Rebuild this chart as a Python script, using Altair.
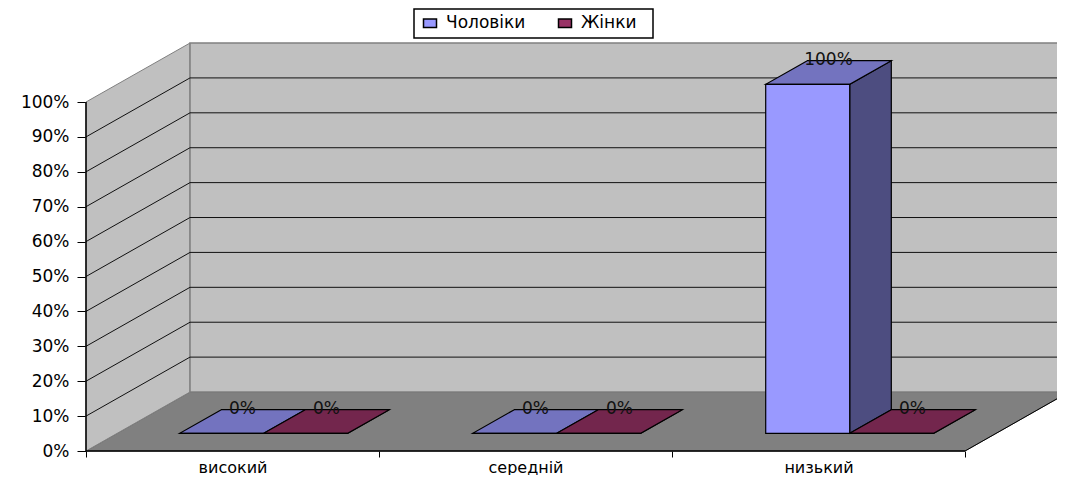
import altair as alt
import pandas as pd

categories = ["високий", "середній", "низький"]
series_names = ["Чоловіки", "Жінки"]
men = [0, 0, 100]
women = [0, 0, 0]
front_colors = ["#9999FF", "#993366"]
top_colors = ["#7373BF", "#73264D"]
side_colors = ["#4D4D80", "#4D1A33"]
y_ticks = [0, 10, 20, 30, 40, 50, 60, 70, 80, 90, 100]
grid_levels = [10, 20, 30, 40, 50, 60, 70, 80, 90]

DX, DY = 0.355, 16.9         # one unit of depth
W = 0.2867                   # width of a column, in categories
GAP = 0.2133
D0, D1 = 0.30, 0.70          # depth range of columns
PX_X, PX_Y = 293.0, 3.49
WIDTH, HEIGHT = 971, 443
XMAX, YMAX = WIDTH / PX_X, HEIGHT / PX_Y
FONT = "DejaVu Sans"
FS = 17
CAT_FS = 16

X = alt.Scale(domain=[0, XMAX], nice=False, zero=False)
Y = alt.Scale(domain=[0, YMAX], nice=False, zero=False)


def xq(f="x"):
    return alt.X(f"{f}:Q", scale=X, title=None)


def yq(f="y"):
    return alt.Y(f"{f}:Q", scale=Y, title=None)


fronts, sides, tops, labels = [], [], [], []
for c, cat in enumerate(categories):
    for s, vals in enumerate([men, women]):
        v = vals[c]
        x0 = c + GAP + s * W
        x1 = x0 + W
        key = f"{c}-{s}"
        fronts.append(dict(x=x0 + D0 * DX, x2=x1 + D0 * DX, y=D0 * DY, y2=v + D0 * DY, series=series_names[s]))
        for d in (D0, D1):
            sides.append(dict(key=key, x=x1 + d * DX, y=d * DY, y2=v + d * DY, fill=side_colors[s]))
            tops.append(dict(key=key, y=v + d * DY, x=x0 + d * DX, x2=x1 + d * DX, fill=top_colors[s]))
        labels.append(dict(x=(x0 + x1) / 2 + (D0 + D1) / 2 * DX, y=v + D1 * DY + 0.3, t=f"{v}%"))

left_wall = pd.DataFrame([dict(x=0, y=0, y2=100), dict(x=DX, y=DY, y2=100 + DY)])
back_wall = pd.DataFrame([dict(x=DX, x2=3 + DX, y=DY, y2=100 + DY)])
floor = pd.DataFrame([dict(y=0, x=0, x2=3), dict(y=DY, x=DX, x2=3 + DX)])
legend_frame = pd.DataFrame([dict(x=(414 - 86) / PX_X, x2=(653 - 86) / PX_X,
                                  y=(451 - 38) / PX_Y, y2=(451 - 9) / PX_Y)])

grid = pd.DataFrame(
    [dict(level=g, o=i, x=px, y=py)
     for g in grid_levels
     for i, (px, py) in enumerate([(0, g), (DX, g + DY), (3 + DX, g + DY)])]
)

WALL = "#C0C0C0"
EDGE = "#808080"

axis_frame = pd.DataFrame([dict(x=0, y=0)])
layers = [
    alt.Chart(axis_frame).mark_point(opacity=0).encode(
        x=alt.X("x:Q", scale=X, title=None, axis=alt.Axis(
            values=[0, 0.5, 1, 1.5, 2, 2.5, 3],
            labelExpr="datum.value % 1 == 0 ? '' : ['" + "','".join(categories) + "'][floor(datum.value)]",
            tickOpacity={"condition": {"test": "datum.value % 1 == 0", "value": 1}, "value": 0},
            domain=False, grid=False, tickColor="#000000", tickSize=6, tickWidth=1,
            labelPadding=2, labelFont=FONT, labelFontSize=CAT_FS, labelColor="#000000", labelOverlap=False)),
        y=alt.Y("y:Q", scale=Y, title=None, axis=alt.Axis(
            values=y_ticks, labelExpr="datum.value + '%'", domain=False, grid=False,
            tickColor="#000000", tickSize=9, tickWidth=1, labelPadding=8,
            labelFont=FONT, labelFontSize=FS, labelColor="#000000")),
    ),
    alt.Chart(floor).mark_area(orient="horizontal", color="#808080", stroke="#5f5f5f", strokeWidth=1).encode(
        y=yq(), x=xq(), x2="x2:Q"),
    alt.Chart(left_wall).mark_area(color=WALL, stroke=EDGE, strokeWidth=1).encode(
        x=xq(), y=yq(), y2="y2:Q"),
    alt.Chart(back_wall).mark_rect(color=WALL, stroke=EDGE, strokeWidth=1.5).encode(
        x=xq(), x2="x2:Q", y=yq(), y2="y2:Q"),
    alt.Chart(grid).mark_line(color="#111111", strokeWidth=1).encode(
        x=xq(), y=yq(), detail="level:N", order="o:Q"),
    alt.Chart(pd.DataFrame([dict(x=3, y=0), dict(x=3 + DX, y=DY)])).mark_line(color="#000000", strokeWidth=1).encode(
        x=xq(), y=yq()),
    alt.Chart(legend_frame).mark_rect(fill="#FFFFFF", stroke="#000000", strokeWidth=1.5).encode(
        x=xq(), x2="x2:Q", y=yq(), y2="y2:Q"),
    alt.Chart(pd.DataFrame(sides)).mark_area(stroke="#000000", strokeWidth=1.2).encode(
        x=xq(), y=yq(), y2="y2:Q", detail="key:N", fill=alt.Fill("fill:N", scale=None)),
    alt.Chart(pd.DataFrame(tops)).mark_area(orient="horizontal", stroke="#000000", strokeWidth=1.2).encode(
        y=yq(), x=xq(), x2="x2:Q", detail="key:N", fill=alt.Fill("fill:N", scale=None)),
    alt.Chart(pd.DataFrame(fronts)).mark_rect(stroke="#000000", strokeWidth=1.2).encode(
        x=xq(), x2="x2:Q", y=yq(), y2="y2:Q",
        color=alt.Color(
            "series:N",
            scale=alt.Scale(domain=series_names, range=front_colors),
            legend=alt.Legend(
                title=None, orient="none", legendX=335.5, legendY=6.5, direction="horizontal",
                padding=0,
                symbolType="M-1.3,-0.85H1.3V0.85H-1.3Z", symbolSize=100,
                symbolStrokeColor="#000000", symbolStrokeWidth=1.5, symbolOpacity=1,
                labelFont=FONT, labelFontSize=FS, labelColor="#000000",
                columnPadding=30, labelOffset=7.5,
            ),
        ),
    ),
    alt.Chart(pd.DataFrame(labels)).mark_text(font=FONT, fontSize=FS, color="#111111", baseline="middle").encode(
        x=xq(), y=yq(), text="t:N"),
    alt.Chart(pd.DataFrame([dict(x=0, y=0, y2=100)])).mark_rule(color="#000000", strokeWidth=1.5).encode(
        x=xq(), y=yq(), y2="y2:Q"),
    alt.Chart(pd.DataFrame([dict(x=0, x2=3, y=0)])).mark_rule(color="#000000", strokeWidth=1.5).encode(
        x=xq(), x2="x2:Q", y=yq()),
]

chart = (
    alt.layer(*layers)
    .properties(
        width=WIDTH, height=HEIGHT,
        padding={"left": 78, "top": 0, "right": 0, "bottom": 24},
        autosize=alt.AutoSizeParams(type="none"),
    )
    .configure_view(stroke=None)
)

chart.save("out.html", embed_options={"renderer": "svg", "actions": False})
